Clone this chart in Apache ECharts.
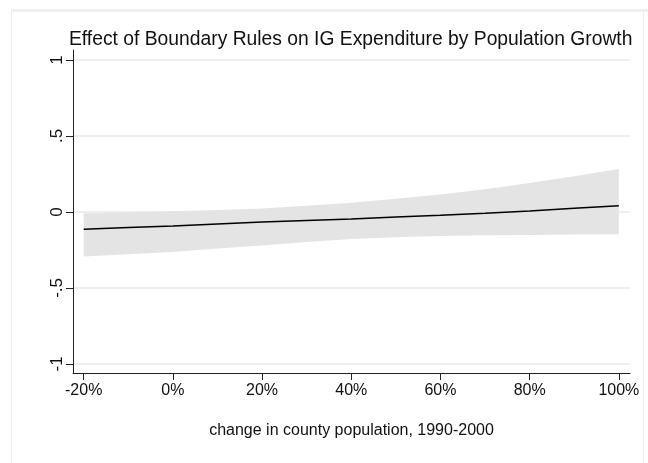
<!DOCTYPE html>
<html>
<head>
<meta charset="utf-8">
<script src="https://cdn.jsdelivr.net/npm/echarts@6/dist/echarts.min.js"></script>
<style>
  html, body { margin: 0; padding: 0; background: #fff; }
  #chart { width: 648px; height: 463px; }
</style>
</head>
<body>
<div id="chart"></div>
<script>
// x: change in county population (%)
var popChange = [-20, -10, 0, 10, 20, 30, 40, 50, 60, 70, 80, 90, 100];
// marginal effect and its confidence band
var effect = [-0.114, -0.103, -0.092, -0.079, -0.066, -0.056, -0.046, -0.034, -0.022, -0.008, 0.007, 0.024, 0.041];
var ciUpper = [-0.009, -0.002, 0.005, 0.013, 0.023, 0.041, 0.061, 0.087, 0.115, 0.150, 0.190, 0.235, 0.283];
var ciLower = [-0.294, -0.278, -0.263, -0.240, -0.220, -0.198, -0.178, -0.166, -0.158, -0.154, -0.151, -0.148, -0.147];
var xTicks = [-20, 0, 20, 40, 60, 80, 100];
var yTicks = [-1, -0.5, 0, 0.5, 1];
var yTickText = { '-1': '-1', '-0.5': '-.5', '0': '0', '0.5': '.5', '1': '1' };

var font = 'Liberation Sans, Arial, sans-serif';

var bandData = [], lineData = [];
for (var i = 0; i < popChange.length; i++) {
    bandData.push([popChange[i], ciLower[i], ciUpper[i]]);
    lineData.push([popChange[i], effect[i]]);
}

// confidence band as one polygon: upper edge left->right, lower edge back
function renderBand(params, api) {
    if (params.dataIndex !== 0) return;
    var pts = [];
    for (var i = 0; i < bandData.length; i++) {
        pts.push(api.coord([bandData[i][0], bandData[i][2]]));
    }
    for (var j = bandData.length - 1; j >= 0; j--) {
        pts.push(api.coord([bandData[j][0], bandData[j][1]]));
    }
    return {
        type: 'polygon',
        shape: { points: pts },
        style: { fill: '#e4e4e4' }
    };
}

var myChart = echarts.init(document.getElementById('chart'));
var option = {
    backgroundColor: '#fff',
    animation: false,
    title: {
        text: 'Effect of Boundary Rules on IG Expenditure by Population Growth',
        left: 64,
        top: 25,
        textStyle: { fontFamily: font, fontSize: 19.3, fontWeight: 'normal', color: '#111' }
    },
    graphic: [
        { type: 'rect', shape: { x: 11, y: 9, width: 637, height: 3 }, style: { fill: '#f0f0f0' }, silent: true },
        { type: 'line', shape: { x1: 11.5, y1: 10, x2: 11.5, y2: 463 }, style: { stroke: '#efefef', lineWidth: 1 }, silent: true },
        { type: 'line', shape: { x1: 643.5, y1: 10, x2: 643.5, y2: 463 }, style: { stroke: '#efefef', lineWidth: 1 }, silent: true }
    ],
    grid: { left: 73, right: 18, top: 50, bottom: 90 },
    xAxis: {
        type: 'value',
        min: -22.4,
        max: 102.5,
        name: 'change in county population, 1990-2000',
        nameLocation: 'middle',
        nameGap: 50,
        nameTextStyle: { fontFamily: font, fontSize: 16, color: '#111' },
        axisLine: { onZero: false, lineStyle: { color: '#222', width: 1 } },
        axisTick: { show: true, length: 7, customValues: xTicks, lineStyle: { color: '#222' } },
        axisLabel: {
            customValues: xTicks,
            margin: 10,
            fontFamily: font, fontSize: 16, color: '#111',
            formatter: function (v) { return v + '%'; }
        },
        splitLine: { show: false }
    },
    yAxis: {
        type: 'value',
        min: -1.06,
        max: 1.066,
        axisLine: { show: true, onZero: false, lineStyle: { color: '#222', width: 1 } },
        axisTick: { show: true, length: 7, customValues: yTicks, lineStyle: { color: '#222' } },
        axisLabel: {
            customValues: yTicks,
            rotate: 90,
            margin: 7,
            fontFamily: font, fontSize: 17, color: '#111',
            formatter: function (v) { return yTickText[String(v)]; }
        },
        splitLine: { show: true, lineStyle: { color: '#eaeaea', width: 1.5 } }
    },
    series: [
        {
            type: 'custom',
            data: bandData,
            encode: { x: 0, y: [1, 2] },
            renderItem: renderBand,
            silent: true,
            z: 1
        },
        {
            type: 'line',
            data: lineData,
            symbol: 'none',
            lineStyle: { color: '#000', width: 1.5 },
            z: 5
        }
    ]
};
myChart.setOption(option);
</script>
</body>
</html>
